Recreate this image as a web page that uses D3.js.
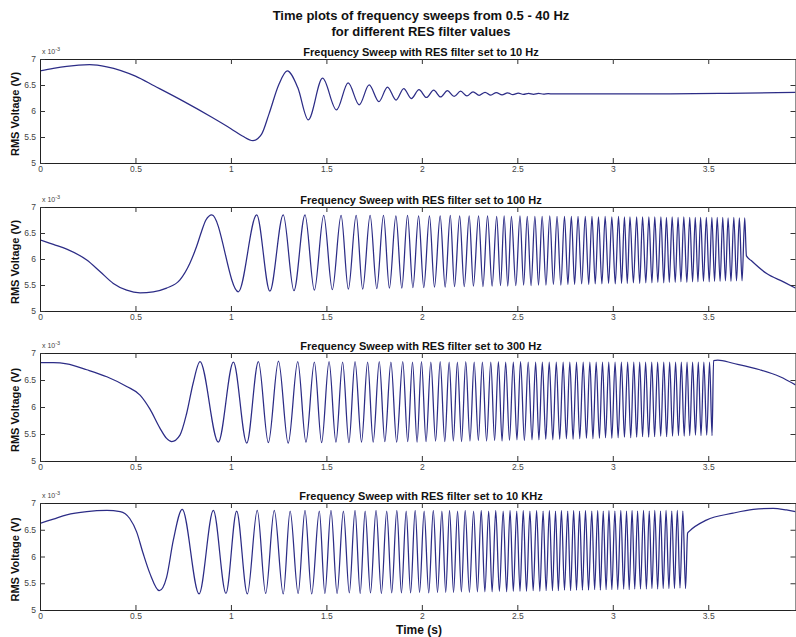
<!DOCTYPE html>
<html>
<head>
<meta charset="utf-8">
<script src="https://cdn.jsdelivr.net/npm/d3@7"></script>
<style>
  body { margin: 0; background: #fff; }
  svg text { font-family: "Liberation Sans", Arial, sans-serif; }
</style>
</head>
<body>
<div id="chart"></div>
<script>
// values are RMS voltage in units of 1e-3 V
// sweep data kept as [time (s), voltage] turning points of the trace

var xTicks = [0, 0.5, 1, 1.5, 2, 2.5, 3, 3.5];
var xTickLabels = ["0", "0.5", "1", "1.5", "2", "2.5", "3", "3.5"];
var yTicks = [5, 5.5, 6, 6.5, 7];
var yTickLabels = ["5", "5.5", "6", "6.5", "7"];

var mainTitle = ["Time plots of frequency sweeps from 0.5 - 40 Hz",
                 "for different RES filter values"];
var panelTitles = ["Frequency Sweep with RES filter set to 10 Hz",
                   "Frequency Sweep with RES filter set to 100 Hz",
                   "Frequency Sweep with RES filter set to 300 Hz",
                   "Frequency Sweep with RES filter set to 10 KHz"];

var sweep10 = [
  [0,6.77],[0.07,6.82],[0.14,6.86],[0.26,6.89],[0.35,6.85],[0.5,6.67],[0.6,6.48],
  [0.75,6.19],[0.9,5.88],[1.0,5.66],[1.06,5.52],[1.115,5.43],[1.16,5.55],[1.2,5.95],
  [1.25,6.5],[1.295,6.77],[1.35,6.45],[1.405,5.83],[1.48,6.63],[1.553,6.02],[1.614,6.54],
  [1.672,6.12],[1.724,6.5],[1.775,6.18],[1.82,6.46],[1.865,6.21],[1.905,6.43],[1.945,6.24],
  [1.985,6.41],[2.024,6.26],[2.062,6.40],[2.098,6.27],[2.134,6.39],[2.169,6.28],[2.203,6.38],
  [2.236,6.29],[2.268,6.37],[2.30,6.30],[2.331,6.36],[2.361,6.305],[2.39,6.355],[2.42,6.31],
  [2.449,6.35],[2.477,6.315],[2.505,6.345],[2.532,6.32],[2.559,6.34],[2.585,6.322],
  [2.611,6.338],[2.637,6.325],[2.662,6.335],[2.687,6.327],[2.75,6.33],[3.0,6.33],
  [3.3,6.33],[3.6,6.34],[3.957,6.36]
];

var sweep100 = [
  [0,6.37],[0.07,6.28],[0.14,6.19],[0.245,5.98],[0.314,5.76],[0.384,5.53],[0.454,5.40],
  [0.524,5.35],[0.593,5.37],[0.663,5.44],[0.733,5.60],[0.785,5.92],[0.82,6.24],[0.846,6.53],
  [0.869,6.75],[0.90,6.85],
  [1.039,5.37],[1.135,6.85],[1.204,5.38],[1.274,6.85],[1.33,5.39],[1.388,6.85],[1.437,5.40],
  [1.486,6.84],[1.531,5.41],[1.577,6.84],[1.615,5.42],[1.656,6.84],[1.69,5.42],[1.729,6.84],
  [1.764,5.43],[1.799,6.84],[1.83,5.44],[1.864,6.83],[1.895,5.44],[1.925,6.84],[1.953,5.45],
  [1.983,6.83],[2.01,5.45],[2.04,6.83],[2.066,5.46],[2.096,6.83],[2.122,5.46],[2.149,6.84],
  [2.171,5.47],[2.198,6.83],[2.222,5.47],[2.248,6.83],[2.27,5.48],[2.297,6.83],[2.32,5.47],
  [2.344,6.83],[2.368,5.48],[2.392,6.82],[2.412,5.49],[2.431,6.83],[2.45,5.48],[2.469,6.82],
  [2.492,5.49],[2.514,6.83],[2.533,5.50],[2.552,6.82],[2.572,5.49],[2.592,6.82],[2.611,5.50],
  [2.63,6.82],[2.65,5.50],[2.67,6.83],[2.689,5.51],[2.708,6.82],[2.728,5.50],[2.747,6.82],
  [2.765,5.51],[2.783,6.82],[2.80,5.51],[2.818,6.82],[2.837,5.52],[2.856,6.82],[2.874,5.51],
  [2.891,6.82],[2.908,5.52],[2.925,6.81],[2.943,5.52],[2.96,6.82],[2.978,5.53],[2.995,6.81],
  [3.013,5.52],[3.03,6.82],[3.046,5.53],[3.061,6.81],[3.076,5.53],[3.09,6.81],[3.108,5.54],
  [3.125,6.81],[3.141,5.53],[3.156,6.81],[3.173,5.54],[3.189,6.81],[3.205,5.54],[3.22,6.81],
  [3.236,5.55],[3.252,6.81],[3.267,5.54],[3.281,6.80],[3.296,5.55],[3.311,6.81],[3.327,5.55],
  [3.342,6.80],[3.357,5.56],[3.372,6.81],[3.388,5.55],[3.403,6.80],[3.418,5.56],[3.432,6.80],
  [3.446,5.56],[3.46,6.80],[3.475,5.57],[3.49,6.80],[3.505,5.56],[3.519,6.80],[3.533,5.57],
  [3.547,6.80],[3.562,5.57],[3.576,6.80],[3.59,5.58],[3.604,6.79],[3.619,5.57],[3.634,6.80],
  [3.648,5.58],[3.663,6.79],[3.677,5.58],[3.691,6.79],
  [3.70,6.06],[3.725,5.97],[3.806,5.72],[3.894,5.56],[3.957,5.44]
];

var sweep300 = [
  [0,6.82],[0.07,6.82],[0.14,6.80],[0.245,6.69],[0.35,6.56],[0.454,6.38],[0.524,6.22],
  [0.576,5.96],[0.628,5.61],[0.663,5.42],[0.69,5.36],[0.733,5.48],[0.768,5.88],[0.802,6.44],
  [0.838,6.84],
  [0.934,5.35],[1.013,6.83],[1.083,5.33],[1.144,6.84],[1.196,5.34],[1.249,6.85],[1.30,5.33],
  [1.35,6.84],[1.393,5.35],[1.437,6.83],[1.475,5.34],[1.514,6.84],[1.55,5.35],[1.585,6.83],
  [1.618,5.34],[1.65,6.84],[1.684,5.35],[1.716,6.83],[1.745,5.35],[1.777,6.84],[1.806,5.36],
  [1.838,6.83],[1.868,5.35],[1.90,6.84],[1.926,5.36],[1.951,6.83],[1.975,5.35],[1.998,6.84],
  [2.022,5.36],[2.047,6.83],[2.072,5.37],[2.096,6.84],[2.12,5.36],[2.143,6.83],[2.165,5.37],
  [2.186,6.83],[2.208,5.36],[2.23,6.84],[2.252,5.37],[2.274,6.83],[2.296,5.38],[2.317,6.83],
  [2.339,5.37],[2.361,6.83],[2.381,5.38],[2.401,6.84],[2.42,5.37],[2.439,6.83],[2.459,5.38],
  [2.479,6.83],[2.498,5.39],[2.517,6.84],[2.537,5.38],[2.557,6.83],[2.577,5.39],[2.596,6.83],
  [2.613,5.39],[2.631,6.83],[2.649,5.40],[2.667,6.83],[2.686,5.39],[2.704,6.83],[2.722,5.40],
  [2.74,6.83],[2.757,5.41],[2.775,6.83],[2.792,5.40],[2.81,6.83],[2.827,5.41],[2.845,6.83],
  [2.862,5.42],[2.88,6.83],[2.896,5.41],[2.913,6.83],[2.93,5.42],[2.946,6.83],[2.962,5.43],
  [2.979,6.83],[2.995,5.42],[3.012,6.83],[3.028,5.43],[3.045,6.83],[3.061,5.44],[3.078,6.83],
  [3.094,5.43],[3.11,6.83],[3.125,5.44],[3.141,6.83],[3.156,5.45],[3.172,6.83],[3.188,5.44],
  [3.204,6.83],[3.219,5.45],[3.235,6.83],[3.251,5.46],[3.267,6.83],[3.282,5.45],[3.298,6.83],
  [3.313,5.46],[3.329,6.83],[3.344,5.47],[3.359,6.83],[3.374,5.46],[3.389,6.83],[3.403,5.47],
  [3.418,6.83],[3.433,5.48],[3.448,6.83],[3.462,5.47],[3.477,6.83],[3.492,5.48],[3.507,6.83],
  [3.52,5.47],
  [3.528,6.86],[3.55,6.87],[3.63,6.81],[3.77,6.69],[3.876,6.56],[3.957,6.41]
];

var sweep10k = [
  [0,6.62],[0.07,6.70],[0.14,6.78],[0.245,6.84],[0.35,6.86],[0.42,6.84],[0.47,6.71],
  [0.506,6.46],[0.54,6.06],[0.576,5.68],[0.625,5.36],[0.663,5.61],[0.698,6.30],[0.745,6.88],
  [0.833,5.30],[0.908,6.86],[0.974,5.31],[1.03,6.85],[1.086,5.30],[1.138,6.86],[1.182,5.31],
  [1.227,6.86],[1.274,5.30],[1.31,6.85],[1.352,5.31],[1.388,6.86],[1.423,5.30],[1.463,6.85],
  [1.492,5.31],[1.524,6.86],[1.556,5.31],[1.589,6.85],[1.62,5.32],[1.65,6.86],[1.677,5.31],
  [1.703,6.85],[1.731,5.32],[1.76,6.86],[1.788,5.31],[1.816,6.85],[1.842,5.32],[1.869,6.86],
  [1.893,5.32],[1.918,6.85],[1.941,5.32],[1.965,6.86],[1.988,5.33],[2.012,6.85],[2.036,5.32],
  [2.06,6.86],[2.082,5.33],[2.105,6.85],[2.125,5.33],[2.145,6.86],[2.166,5.33],[2.187,6.85],
  [2.207,5.34],[2.227,6.86],[2.249,5.33],[2.271,6.85],[2.291,5.34],[2.311,6.86],[2.33,5.34],
  [2.35,6.85],[2.368,5.34],[2.387,6.86],[2.406,5.35],[2.426,6.85],[2.444,5.34],[2.462,6.86],
  [2.479,5.35],[2.497,6.85],[2.514,5.35],[2.531,6.86],[2.548,5.35],[2.566,6.85],[2.583,5.36],
  [2.601,6.86],[2.618,5.35],[2.635,6.85],[2.651,5.36],[2.668,6.86],[2.684,5.36],[2.70,6.85],
  [2.715,5.36],[2.731,6.86],[2.747,5.37],[2.764,6.85],[2.779,5.36],[2.795,6.86],[2.81,5.37],
  [2.826,6.85],[2.841,5.37],[2.857,6.86],[2.873,5.37],[2.89,6.85],[2.905,5.38],[2.921,6.86],
  [2.935,5.37],[2.95,6.85],[2.965,5.38],[2.98,6.86],[2.995,5.38],[3.011,6.85],[3.026,5.38],
  [3.042,6.86],[3.057,5.39],[3.072,6.85],[3.086,5.38],[3.101,6.86],[3.115,5.39],[3.13,6.85],
  [3.145,5.39],[3.161,6.86],[3.176,5.39],[3.191,6.85],[3.205,5.40],[3.22,6.86],[3.235,5.39],
  [3.25,6.85],[3.264,5.40],[3.279,6.86],[3.294,5.40],[3.309,6.85],[3.323,5.40],[3.338,6.86],
  [3.352,5.41],[3.367,6.85],[3.381,5.40],
  [3.392,6.44],[3.40,6.47],[3.49,6.68],[3.63,6.81],[3.736,6.88],[3.84,6.90],[3.91,6.87],
  [3.957,6.84]
];

var W = 796, H = 637;
var left = 40, right = 795.5;
var panels = [
  {title: panelTitles[0], data: sweep10,  top: 59,  bottom: 163},
  {title: panelTitles[1], data: sweep100, top: 207, bottom: 311},
  {title: panelTitles[2], data: sweep300, top: 353, bottom: 461},
  {title: panelTitles[3], data: sweep10k, top: 503, bottom: 610}
];

var svg = d3.select("#chart").append("svg")
    .attr("width", W)
    .attr("height", H);

var x = d3.scaleLinear().domain([0, 3.957]).range([left, right]);

// main title, two lines
svg.selectAll("text.main").data(mainTitle).enter().append("text")
    .attr("class", "main")
    .attr("x", 421)
    .attr("y", function(d, i) { return 20 + i * 16; })
    .attr("text-anchor", "middle")
    .style("font-size", "13px")
    .style("font-weight", "bold")
    .attr("fill", "#111")
    .text(function(d) { return d; });

var line = d3.line()
    .x(function(d) { return x(d[0]); })
    .curve(d3.curveMonotoneX);

panels.forEach(function(p, k) {
    var y = d3.scaleLinear().domain([5, 7]).range([p.bottom, p.top]);
    var g = svg.append("g");

    g.append("clipPath").attr("id", "clip" + k)
        .append("rect")
        .attr("x", left).attr("y", p.top)
        .attr("width", right - left).attr("height", p.bottom - p.top);

    // the trace
    g.append("path")
        .datum(p.data)
        .attr("clip-path", "url(#clip" + k + ")")
        .attr("fill", "none")
        .attr("stroke", "#2c2c86")
        .attr("stroke-width", 1.25)
        .attr("stroke-linejoin", "round")
        .attr("d", line.y(function(d) { return y(d[1]); }));

    // MATLAB style box with inward ticks on all sides
    var bottomAxis = d3.axisBottom(x).tickValues(xTicks)
        .tickSizeInner(-5).tickSizeOuter(0)
        .tickFormat(function(d, i) { return xTickLabels[i]; });
    var topAxis = d3.axisTop(x).tickValues(xTicks)
        .tickSizeInner(-5).tickSizeOuter(0).tickFormat("");
    var leftAxis = d3.axisLeft(y).tickValues(yTicks)
        .tickSizeInner(-5).tickSizeOuter(0)
        .tickFormat(function(d, i) { return yTickLabels[i]; });
    var rightAxis = d3.axisRight(y).tickValues(yTicks)
        .tickSizeInner(-5).tickSizeOuter(0).tickFormat("");

    var ax = [
        g.append("g").attr("transform", "translate(0," + p.bottom + ")").call(bottomAxis),
        g.append("g").attr("transform", "translate(0," + p.top + ")").call(topAxis),
        g.append("g").attr("transform", "translate(" + left + ",0)").call(leftAxis),
        g.append("g").attr("transform", "translate(" + right + ",0)").call(rightAxis)
    ];
    ax.forEach(function(a) {
        a.select(".domain").attr("stroke", "#222").attr("stroke-width", 1);
        a.selectAll(".tick line").attr("stroke", "#333");
        a.selectAll(".tick text")
            .attr("fill", "#444")
            .style("font-size", "8.5px")
            .style("font-family", "'Liberation Sans', Arial, sans-serif");
    });
    ax[0].selectAll(".tick text").attr("y", 3).attr("dy", "0.71em");
    ax[2].selectAll(".tick text").attr("x", -4);

    // exponent marker
    var ex = g.append("text")
        .attr("x", left + 2)
        .attr("y", p.top - 5)
        .attr("fill", "#444")
        .style("font-size", "7px");
    ex.append("tspan").text("x 10");
    ex.append("tspan").attr("dy", -3).style("font-size", "5.5px").text("-3");

    // panel title
    g.append("text")
        .attr("x", 421)
        .attr("y", p.top - 3.5)
        .attr("text-anchor", "middle")
        .style("font-size", "11px")
        .style("font-weight", "bold")
        .attr("fill", "#111")
        .text(p.title);

    // y label
    var cy = (p.top + p.bottom) / 2 + 3;
    g.append("text")
        .attr("transform", "translate(19," + cy + ") rotate(-90)")
        .attr("text-anchor", "middle")
        .style("font-size", "11px")
        .style("font-weight", "bold")
        .attr("fill", "#111")
        .text("RMS Voltage (V)");
});

svg.append("text")
    .attr("x", 419)
    .attr("y", 634)
    .attr("text-anchor", "middle")
    .style("font-size", "12px")
    .style("font-weight", "bold")
    .attr("fill", "#111")
    .text("Time (s)");
</script>
</body>
</html>
